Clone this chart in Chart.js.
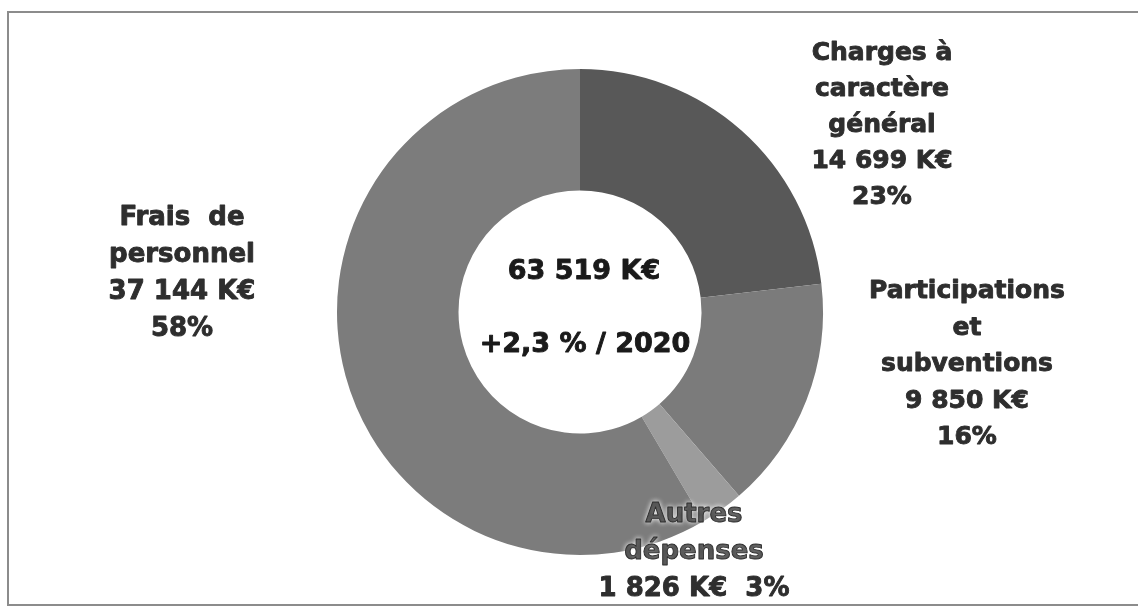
<!DOCTYPE html>
<html>
<head>
<meta charset="utf-8">
<script src="https://cdn.jsdelivr.net/npm/chart.js@4.4.1/dist/chart.umd.min.js"></script>
<style>
    html, body { margin: 0; padding: 0; background: #fff; }
    #wrap { position: relative; width: 1138px; height: 609px; overflow: hidden; }
    #frame { position: absolute; left: 7px; top: 11px; width: 1140px; height: 595px; border: 2px solid #8c8c8c; box-sizing: border-box; }
    canvas { position: absolute; left: 0; top: 0; }
</style>
</head>
<body>
<div id="wrap">
    <div id="frame"></div>
    <canvas id="donut" width="1138" height="609"></canvas>
</div>
<script>
// Données (K€)
const categories = [
    ['Charges à', 'caractère', 'général'],
    ['Participations', 'et', 'subventions'],
    ['Autres', 'dépenses'],
    ['Frais  de', 'personnel']
];
const amounts = [14699, 9850, 1826, 37144];
const amountLabels = ['14 699 K€', '9 850 K€', '1 826 K€', '37 144 K€'];
const percentLabels = ['23%', '16%', '3%', '58%'];
const sliceColors = ['#585858', '#7b7b7b', '#9c9c9c', '#7c7c7c'];

const totalLabel = '63 519 K€';
const evolutionLabel = '+2,3 % / 2020';

// label layout: offsets from the donut centre (x, first baseline y), line height
const labelPlace = [
    { dx: 302, dy: -252, lh: 36, last: 'split', size: 25 },
    { dx: 387, dy: -14, lh: 36.5, last: 'split', size: 25 },
    { dx: 114, dy: 210, lh: 37, last: 'inline', size: 26 },
    { dx: -398, dy: -87, lh: 37, last: 'split', size: 26 }
];

function boldText(ctx, t, x, y) {
    ctx.fillText(t, x, y);
    ctx.strokeText(t, x, y);
}

const labelsPlugin = {
    id: 'donutLabels',
    afterDatasetsDraw(chart) {
        const ctx = chart.ctx;
        const arc = chart.getDatasetMeta(0).data[0];
        const cx = arc.x, cy = arc.y;
        ctx.save();
        ctx.textAlign = 'center';
        ctx.textBaseline = 'alphabetic';
        ctx.lineWidth = 0.9;
        ctx.lineJoin = 'round';

        categories.forEach((lines, i) => {
            const p = labelPlace[i];
            ctx.font = 'bold ' + p.size + 'px "DejaVu Sans", Verdana, sans-serif';
            let rows = lines.slice();
            if (p.last === 'inline') {
                rows.push(amountLabels[i] + '  ' + percentLabels[i]);
            } else {
                rows.push(amountLabels[i], percentLabels[i]);
            }
            rows.forEach((t, j) => {
                const x = cx + p.dx, y = cy + p.dy + j * p.lh;
                if (i === 2 && j < 2) {
                    ctx.shadowColor = 'rgba(255,255,255,0.95)';
                    ctx.shadowBlur = 5;
                } else {
                    ctx.shadowBlur = 0;
                }
                ctx.fillStyle = '#2e2e2e';
                ctx.strokeStyle = '#2e2e2e';
                boldText(ctx, t, x, y);
            });
        });

        ctx.shadowBlur = 0;
        ctx.font = 'bold 27px "DejaVu Sans", Verdana, sans-serif';
        ctx.fillStyle = '#1a1a1a';
        ctx.strokeStyle = '#1a1a1a';
        boldText(ctx, totalLabel, cx + 4, cy - 33);
        boldText(ctx, evolutionLabel, cx + 5, cy + 40);
        ctx.restore();
    }
};

new Chart(document.getElementById('donut').getContext('2d'), {
    type: 'doughnut',
    data: {
        labels: categories.map(c => c.join(' ')),
        datasets: [{
            data: amounts,
            backgroundColor: sliceColors,
            borderWidth: 0
        }]
    },
    options: {
        responsive: false,
        animation: false,
        cutout: '50%',
        layout: { padding: { left: 337, right: 315, top: 69, bottom: 54 } },
        plugins: {
            legend: { display: false },
            tooltip: { enabled: false }
        }
    },
    plugins: [labelsPlugin]
});
</script>
</body>
</html>
